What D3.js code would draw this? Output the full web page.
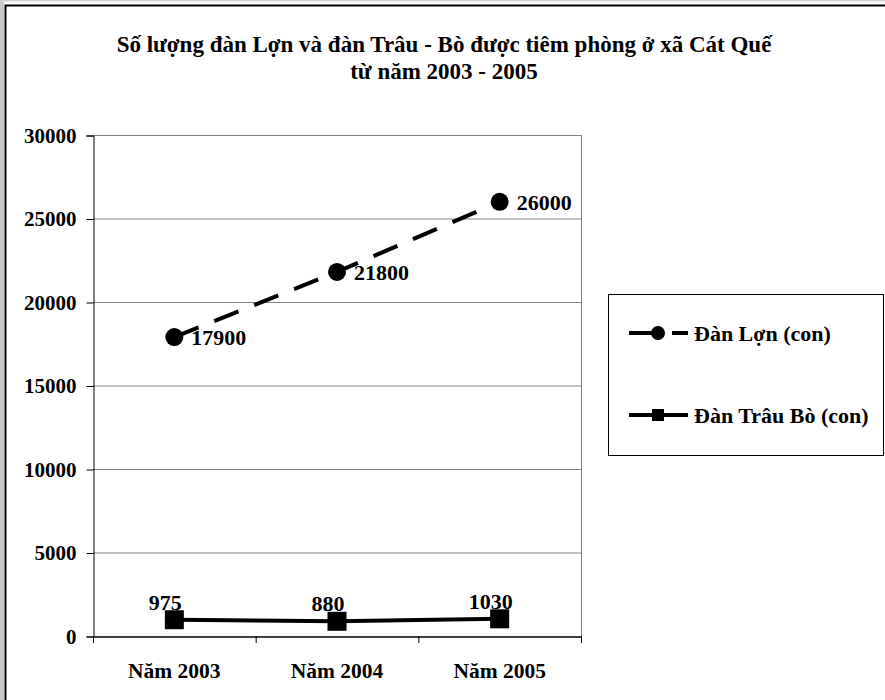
<!DOCTYPE html>
<html><head><meta charset="utf-8">
<script src="https://cdn.jsdelivr.net/npm/d3@7"></script>
<style>body{margin:0;background:#fff}svg{display:block}text{font-family:"Liberation Serif","Times New Roman",serif;font-weight:bold;fill:#000}</style>
</head><body><svg id="c" width="885" height="700"></svg>
<script>
const categories = ["Năm 2003", "Năm 2004", "Năm 2005"];
const pigValues = [17900, 21800, 26000];
const cattleValues = [975, 880, 1030];
const seriesNames = ["Đàn Lợn (con)", "Đàn Trâu Bò (con)"];
const yTicks = [0, 5000, 10000, 15000, 20000, 25000, 30000];
const titleLines = ["Số lượng đàn Lợn và đàn Trâu - Bò được tiêm phòng ở xã Cát Quế", "từ năm 2003 - 2005"];

const svg = d3.select("#c");
const W = 885, H = 700;
svg.append("rect").attr("x",0).attr("y",0).attr("width",W).attr("height",H).attr("fill","#fff");
svg.append("rect").attr("x",0).attr("y",0).attr("width",4).attr("height",H).attr("fill","#c8c8c8");
svg.append("rect").attr("x",0).attr("y",0).attr("width",W).attr("height",1.5).attr("fill","#d0d0d0");
svg.append("rect").attr("x",5.5).attr("y",5.5).attr("width",W+20).attr("height",H+20)
  .attr("fill","none").attr("stroke","#000").attr("stroke-width",2);

const m = {l:93, r:581, t:135, b:636};
const x = d3.scaleBand().domain(categories).range([m.l, m.r]).padding(0);
const y = d3.scaleLinear().domain([0, 30000]).range([m.b, m.t]);
const cx = d => x(d) + x.bandwidth()/2;

svg.append("g").selectAll("text").data(titleLines).join("text")
  .attr("x", 444).attr("y", (d,i) => 52 + i*27).attr("text-anchor","middle")
  .style("font-size","23px").text(d => d);

svg.append("g").selectAll("line").data(yTicks.filter(v=>v>0)).join("line")
  .attr("x1", m.l).attr("x2", m.r).attr("y1", d=>y(d)+0.5).attr("y2", d=>y(d)+0.5)
  .attr("stroke","#808080").attr("stroke-width",1);
svg.append("line").attr("x1",m.r+0.5).attr("x2",m.r+0.5).attr("y1",m.t).attr("y2",m.b)
  .attr("stroke","#808080");

const ya = svg.append("g").attr("transform",`translate(${m.l+0.5},0.5)`)
  .call(d3.axisLeft(y).tickValues(yTicks).tickSize(7).tickPadding(10).tickFormat(d3.format("d")));
ya.select(".domain").attr("stroke","#000");
ya.selectAll(".tick line").attr("stroke","#000");
ya.selectAll("text").style("font-size","21px").style("font-family",'"Liberation Serif",serif').style("font-weight","bold").attr("dy","0.32em");

const xa = svg.append("g").attr("transform",`translate(0,${m.b+0.5})`)
  .call(d3.axisBottom(x).tickSize(0).tickPadding(26));
xa.select(".domain").attr("stroke","#000").attr("stroke-width",1.5);
xa.selectAll("text").style("font-size","21.5px").style("font-family",'"Liberation Serif",serif').style("font-weight","bold");
const bounds = categories.map(c => x(c)).concat([x(categories[categories.length-1]) + x.bandwidth()]);
svg.append("g").selectAll("line").data(bounds).join("line")
  .attr("x1", d=>d+0.5).attr("x2", d=>d+0.5).attr("y1", m.b).attr("y2", m.b+7)
  .attr("stroke","#000");

const line = d3.line().x(d=>cx(d.c)).y(d=>y(d.v));
const pigData = categories.map((c,i)=>({c, v:pigValues[i]}));
const cattleData = categories.map((c,i)=>({c, v:cattleValues[i]}));

svg.append("path").datum(pigData).attr("d", line).attr("fill","none")
  .attr("stroke","#000").attr("stroke-width",4).attr("stroke-dasharray","26,17");
svg.append("g").selectAll("circle").data(pigData).join("circle")
  .attr("cx", d=>cx(d.c)).attr("cy", d=>y(d.v)).attr("r", 9).attr("fill","#000");
svg.append("g").selectAll("text").data(pigData).join("text")
  .attr("x", d=>cx(d.c)+17).attr("y", d=>y(d.v)).attr("dy","0.35em")
  .style("font-size","22px").text(d=>d.v);

svg.append("path").datum(cattleData).attr("d", line).attr("fill","none")
  .attr("stroke","#000").attr("stroke-width",4);
svg.append("g").selectAll("rect").data(cattleData).join("rect")
  .attr("x", d=>cx(d.c)-9.5).attr("y", d=>y(d.v)-9.5).attr("width",19).attr("height",19).attr("fill","#000");
svg.append("g").selectAll("text").data(cattleData).join("text")
  .attr("x", d=>cx(d.c)-9).attr("y", d=>y(d.v)-10).attr("text-anchor","middle")
  .style("font-size","22px").text(d=>d.v);

const lg = svg.append("g");
lg.append("rect").attr("x",608.5).attr("y",294.5).attr("width",275).attr("height",161)
  .attr("fill","#fff").attr("stroke","#000").attr("stroke-width",1);
const ly = [333, 415];
lg.append("line").attr("x1",629).attr("x2",688).attr("y1",ly[0]).attr("y2",ly[0])
  .attr("stroke","#000").attr("stroke-width",4).attr("stroke-dasharray","26,17");
lg.append("circle").attr("cx",658).attr("cy",ly[0]).attr("r",7).attr("fill","#000");
lg.append("line").attr("x1",629).attr("x2",688).attr("y1",ly[1]).attr("y2",ly[1])
  .attr("stroke","#000").attr("stroke-width",4);
lg.append("rect").attr("x",652).attr("y",ly[1]-6).attr("width",12).attr("height",12).attr("fill","#000");
lg.selectAll("text.lt").data(seriesNames).join("text").attr("class","lt")
  .attr("x",694).attr("y",(d,i)=>ly[i]).attr("dy","0.35em").style("font-size","22px").text(d=>d);
</script></body></html>
